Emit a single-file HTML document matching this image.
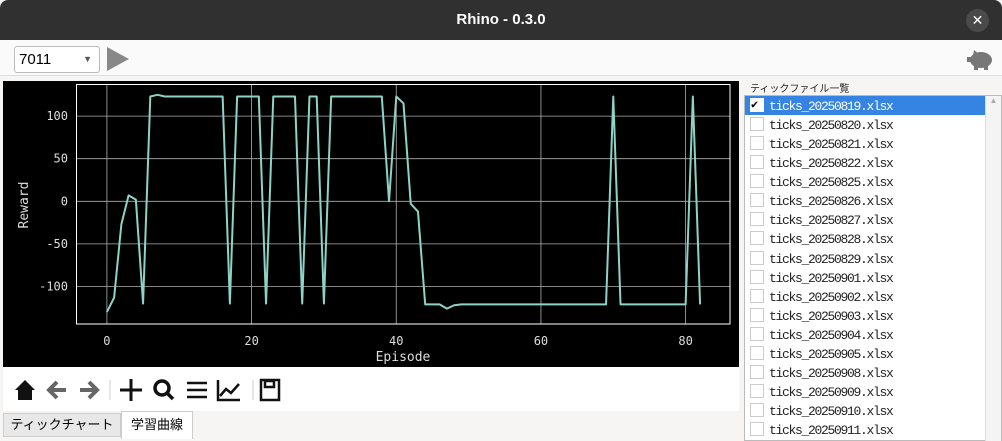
<!DOCTYPE html>
<html><head><meta charset="utf-8">
<style>
*{box-sizing:border-box;margin:0;padding:0}
body{width:1002px;height:441px;overflow:hidden;background:#f6f5f4;font-family:"Liberation Sans","Noto Sans CJK JP",sans-serif;position:relative}
.abs{position:absolute}
#titlebar{left:0;top:0;width:1002px;height:40px;background:#303030;border-radius:8px 8px 0 0;color:#fff;font-weight:bold;font-size:15px;text-align:center;line-height:40px}
#close{left:966px;top:9px;width:23px;height:23px;border-radius:50%;background:#4a4a4a;color:#fff;font-size:14px;line-height:23px;text-align:center}
#toolbar{left:0;top:40px;width:1002px;height:36px;background:#fafafa;border-bottom:1px solid #ddd}
#combo{left:14px;top:46px;width:86px;height:27px;border:1px solid #bbb;border-radius:3px;background:#fff;font-size:15px;line-height:25px;padding-left:4px}
#chartbox{left:3px;top:81px;width:736px;height:286px;background:#000}
#navbar{left:3px;top:367px;width:736px;height:44px;background:#fff}
.li{left:745px;width:240px;height:19px;font-family:"Liberation Mono",monospace;font-size:13px;letter-spacing:-1.3px;line-height:21px;padding-left:24px;color:#222}
.cb{position:absolute;left:5px;top:2px;width:14px;height:14px;border:1px solid #ccc;background:#fff;letter-spacing:0}
</style></head><body>
<div class="abs" id="titlebar">Rhino - 0.3.0</div>
<div class="abs" id="close">✕</div>
<div class="abs" id="toolbar"></div>
<div class="abs" id="combo">7011<span style="position:absolute;right:7px;top:0;font-size:9px;color:#555">▼</span></div>
<svg class="abs" style="left:106px;top:46px" width="24" height="26"><polygon points="1,1 23,13 1,25" fill="#888"/></svg>
<svg class="abs" style="left:966px;top:47px" width="28" height="24"><ellipse cx="15" cy="13" rx="11" ry="8" fill="#777"/><rect x="8" y="17" width="4" height="6" fill="#777"/><rect x="18" y="17" width="4" height="6" fill="#777"/><polygon points="8,3 13,7 7,9" fill="#777"/><rect x="1" y="10" width="5" height="5" fill="#777"/></svg>
<div class="abs" id="chartbox"></div>
<svg class="abs" id="chart" style="left:0;top:0" width="740" height="370"></svg>
<div class="abs" id="navbar"></div>
<svg class="abs" style="left:10px;top:374px" width="280" height="30">
<g><polygon points="5,16 15,6 25,16 22,16 22,26 8,26 8,16" fill="#111"/></g>
<g stroke="#666" stroke-width="4" fill="none"><line x1="40" y1="16" x2="56" y2="16"/><polyline points="47,8 39,16 47,24"/></g>
<g stroke="#666" stroke-width="4" fill="none"><line x1="70" y1="16" x2="86" y2="16"/><polyline points="79,8 87,16 79,24"/></g>
<line x1="100" y1="6" x2="100" y2="26" stroke="#ccc"/>
<g stroke="#111" stroke-width="3"><line x1="110" y1="16" x2="132" y2="16"/><line x1="121" y1="5" x2="121" y2="27"/></g>
<g stroke="#111" stroke-width="3.5" fill="none"><circle cx="152" cy="14" r="7"/><line x1="157" y1="19" x2="163" y2="25"/></g>
<g stroke="#111" stroke-width="2.5"><line x1="177" y1="9" x2="197" y2="9"/><line x1="177" y1="16" x2="197" y2="16"/><line x1="177" y1="23" x2="197" y2="23"/></g>
<g stroke="#111" stroke-width="2.5" fill="none"><polyline points="208,6 208,26 230,26"/><polyline points="210,22 216,15 221,19 229,10"/></g>
<line x1="243" y1="6" x2="243" y2="26" stroke="#ccc"/>
<g stroke="#111" stroke-width="2.5" fill="none"><rect x="251" y="6" width="18" height="20"/><rect x="255" y="7" width="9" height="6"/></g>
</svg>
<div class="abs" style="left:3px;top:413px;width:118px;height:24px;background:#e8e8e8;border:1px solid #ccc;font-size:13px;line-height:22px;text-align:center">ティックチャート</div>
<div class="abs" style="left:121px;top:411px;width:72px;height:28px;background:#fff;border:1px solid #ccc;border-bottom:none;font-size:13px;line-height:26px;text-align:center">学習曲線</div>
<div class="abs" style="left:750px;top:80px;font-size:10px;color:#222">ティックファイル一覧</div>
<div class="abs" style="left:744px;top:95px;width:258px;height:346px;background:#fff;border:1px solid #bbb"></div>
<div class="abs" style="left:985px;top:96px;width:16px;height:345px;background:#f4f4f4;border-left:1px solid #ddd"><div style="font-size:8px;color:#aaa;text-align:center">▲</div></div>
<div id="list"></div>
<script>
const episodes=[];for(let i=0;i<=82;i++)episodes.push(i);
const rewards=[-130,-113,-27,7,2,-120,123,125,123,123,123,123,123,123,123,123,123,-120,123,123,123,123,-120,123,123,123,123,-120,123,123,-120,123,123,123,123,123,123,123,123,0,123,115,-3,-12,-121,-121,-121,-126,-122,-121,-121,-121,-121,-121,-121,-121,-121,-121,-121,-121,-121,-121,-121,-121,-121,-121,-121,-121,-121,-121,123,-121,-121,-121,-121,-121,-121,-121,-121,-121,-121,123,-121];
const xTicks=[0,20,40,60,80];
const yTicks=[-100,-50,0,50,100];
const files=["20250819","20250820","20250821","20250822","20250825","20250826","20250827","20250828","20250829","20250901","20250902","20250903","20250904","20250905","20250908","20250909","20250910","20250911"];
const sx=v=>106.9+v*7.234, sy=v=>201.3-v*0.852;
const NS="http://www.w3.org/2000/svg",svg=document.getElementById('chart');
function mk(t,a){const e=document.createElementNS(NS,t);for(const k in a)e.setAttribute(k,a[k]);svg.appendChild(e);return e;}
xTicks.forEach(t=>{const l=mk('line',{x1:sx(t),x2:sx(t),y1:84.5,y2:324,stroke:'#b0b0b0','stroke-width':0.8});


const tx=mk('text',{x:sx(t),y:345,fill:'#ddd','font-size':12,'text-anchor':'middle','font-family':'DejaVu Sans Mono,monospace'});tx.textContent=t;

});
yTicks.forEach(t=>{const l=mk('line',{x1:76.5,x2:730,y1:sy(t),y2:sy(t),stroke:'#b0b0b0','stroke-width':0.8});


const tx=mk('text',{x:68,y:sy(t)+4,fill:'#ddd','font-size':12,'text-anchor':'end','font-family':'DejaVu Sans Mono,monospace'});tx.textContent=t;

});
const fr=mk('rect',{x:76.5,y:84.5,width:653.5,height:239.5,fill:'none',stroke:'#fff','stroke-width':1});


const xt=mk('text',{x:403,y:361,fill:'#ddd','font-size':13,'text-anchor':'middle','font-family':'DejaVu Sans Mono,monospace'});xt.textContent='Episode';


const yt=mk('text',{x:0,y:0,fill:'#ddd','font-size':13,'text-anchor':'middle','font-family':'DejaVu Sans Mono,monospace',transform:'translate(28,205) rotate(-90)'});yt.textContent='Reward';


const pl=mk('polyline',{points:episodes.map((e,i)=>sx(e)+','+sy(rewards[i])).join(' '),fill:'none',stroke:'#8dd3c7','stroke-width':2,'stroke-linejoin':'round'});


const list=document.getElementById('list');
files.forEach((f,i)=>{const d=document.createElement('div');d.className='abs li';d.style.top=(96+i*19.07)+'px';


const c=document.createElement('span');c.className='cb';
if(i===0){d.style.background='#3584e4';d.style.color='#fff';c.style.borderColor='#fff';c.textContent='✔';c.style.color='#000';c.style.fontSize='12px';c.style.lineHeight='12px';}
d.appendChild(c);d.appendChild(document.createTextNode('ticks_'+f+'.xlsx'));list.appendChild(d);});
</script>
</body></html>
